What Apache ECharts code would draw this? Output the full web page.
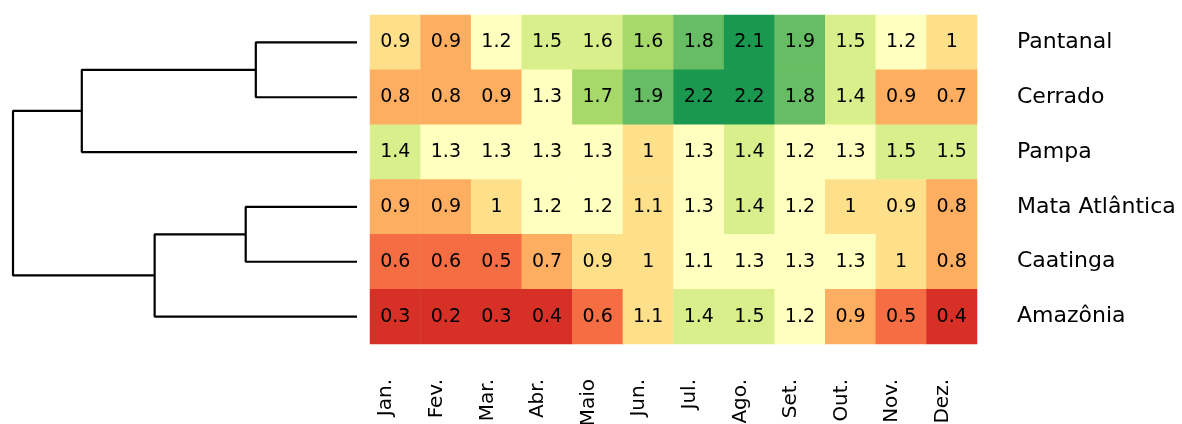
<!DOCTYPE html>
<html>
<head>
<meta charset="utf-8">
<script src="https://cdn.jsdelivr.net/npm/echarts@6/dist/echarts.min.js"></script>
<style>html,body{margin:0;padding:0;background:#fff;overflow:hidden;}#c{width:1182px;height:424px;}</style>
</head>
<body>
<div id="c"></div>
<script>
// ---- data ----
var months = ['Jan.', 'Fev.', 'Mar.', 'Abr.', 'Maio', 'Jun.', 'Jul.', 'Ago.', 'Set.', 'Out.', 'Nov.', 'Dez.'];
var biomes = ['Pantanal', 'Cerrado', 'Pampa', 'Mata Atlântica', 'Caatinga', 'Amazônia'];
var pantanal      = [0.92, 0.88, 1.2, 1.5, 1.58, 1.62, 1.8, 2.1, 1.9, 1.5, 1.2, 1.0];
var cerrado       = [0.8, 0.8, 0.88, 1.3, 1.7, 1.9, 2.2, 2.2, 1.8, 1.4, 0.88, 0.7];
var pampa         = [1.4, 1.3, 1.3, 1.3, 1.3, 1.0, 1.3, 1.4, 1.2, 1.3, 1.5, 1.5];
var mataAtlantica = [0.88, 0.88, 1.0, 1.2, 1.2, 1.08, 1.3, 1.4, 1.2, 1.0, 0.92, 0.8];
var caatinga      = [0.6, 0.6, 0.5, 0.7, 0.92, 1.0, 1.12, 1.3, 1.3, 1.3, 1.0, 0.8];
var amazonia      = [0.3, 0.2, 0.3, 0.4, 0.6, 1.08, 1.4, 1.5, 1.2, 0.88, 0.5, 0.4];
var rows = [pantanal, cerrado, pampa, mataAtlantica, caatinga, amazonia];

// colour bins (RdYlGn)
var binEdges  = [0.45, 0.65, 0.9, 1.1, 1.35, 1.6, 1.75, 2.0];
var binColors = ['#D73027', '#F46D43', '#FDAE61', '#FEE08B', '#FFFFBF', '#D9EF8B', '#A6D96A', '#66BD63', '#1A9850'];

// dendrogram (R-style merge matrix: negative = leaf index (1-based), positive = earlier merge)
var mergeLeft   = [-1, 1, -4, 3, 2];
var mergeRight  = [-2, -3, -5, -6, 4];
var mergeHeight = [1.00, 2.72, 1.10, 2.00, 3.40];

// ---- build ----
var heatData = [];
rows.forEach(function (r, yi) {
  r.forEach(function (v, xi) { heatData.push([xi, yi, v]); });
});

var pieces = binColors.map(function (c, i) {
  var p = { color: c };
  if (i > 0) p.gte = binEdges[i - 1];
  if (i < binEdges.length) p.lt = binEdges[i];
  return p;
});

var nodePos = [];
function pos(id) {
  if (id < 0) return { h: 0, y: (-id - 1) + 0.5 };
  return nodePos[id - 1];
}
var dendroSeries = [];
for (var i = 0; i < mergeHeight.length; i++) {
  var a = pos(mergeLeft[i]), b = pos(mergeRight[i]), h = mergeHeight[i];
  nodePos.push({ h: h, y: (a.y + b.y) / 2 });
  dendroSeries.push({
    type: 'line', xAxisIndex: 1, yAxisIndex: 1, symbol: 'none', silent: true,
    lineStyle: { color: '#000', width: 2.2 },
    data: [[a.h, a.y], [h, a.y], [h, b.y], [b.h, b.y]]
  });
}

var chart = echarts.init(document.getElementById('c'));
chart.setOption({
  animation: false,
  backgroundColor: '#fff',
  grid: [
    { left: 370, right: 205, top: 15, bottom: 80, containLabel: false, outerBoundsMode: 'none' },
    { left: 13, right: 825, top: 15, bottom: 80, containLabel: false, outerBoundsMode: 'none' }
  ],
  xAxis: [
    {
      type: 'category', data: months, gridIndex: 0, position: 'bottom',
      axisLine: { show: false }, axisTick: { show: false }, splitLine: { show: false },
      axisLabel: { rotate: 90, margin: 35, color: '#000', fontFamily: 'DejaVu Sans', fontSize: 20,
                   verticalAlign: 'bottom', lineHeight: 18 }
    },
    { type: 'value', gridIndex: 1, min: 0, max: 3.4, inverse: true, show: false }
  ],
  yAxis: [
    {
      type: 'category', data: biomes, gridIndex: 0, inverse: true, position: 'right',
      axisLine: { show: false }, axisTick: { show: false }, splitLine: { show: false },
      axisLabel: { margin: 40, color: '#000', fontFamily: 'DejaVu Sans', fontSize: 22 }
    },
    { type: 'value', gridIndex: 1, min: 0, max: 6, inverse: true, show: false }
  ],
  visualMap: {
    type: 'piecewise', show: false, dimension: 2, seriesIndex: 0, pieces: pieces
  },
  series: [{
    type: 'heatmap', xAxisIndex: 0, yAxisIndex: 0, data: heatData,
    itemStyle: { borderWidth: 0 },
    label: {
      show: true, color: '#000', fontFamily: 'DejaVu Sans', fontSize: 19,
      formatter: function (p) { return String(Math.round(p.value[2] * 10) / 10); }
    }
  }].concat(dendroSeries)
});
</script>
</body>
</html>
